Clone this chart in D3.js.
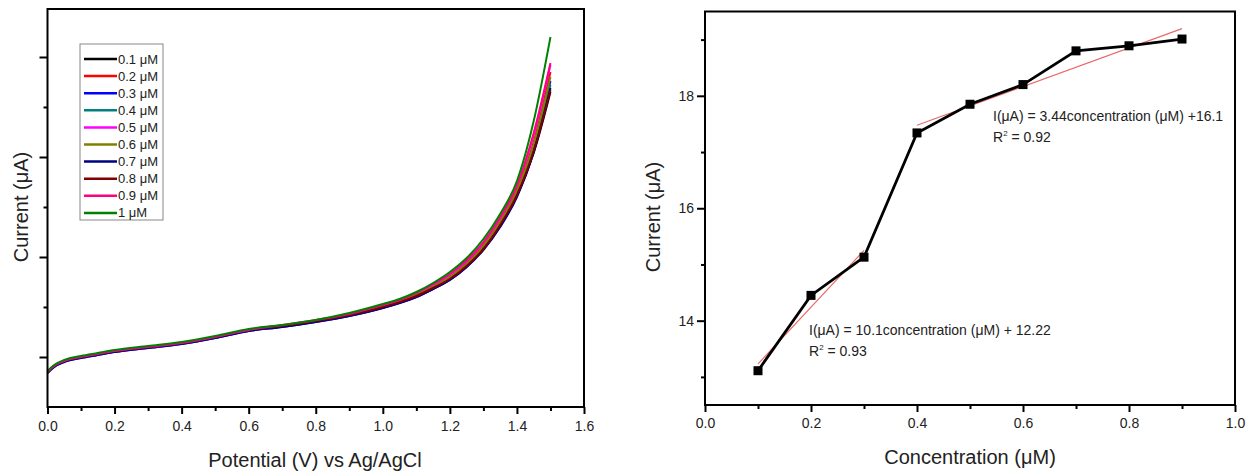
<!DOCTYPE html>
<html>
<head>
<meta charset="utf-8">
<script src="https://cdn.jsdelivr.net/npm/d3@7"></script>
<style>
  html, body { margin: 0; padding: 0; background: #fff; }
  svg { display: block; }
  text { font-family: "Liberation Sans", Arial, sans-serif; fill: #222; }
</style>
</head>
<body>
<svg id="chart" width="1248" height="473"></svg>
<script>
// ---------- Data: left panel (LSV curves) ----------
const potential = [0, 0.02, 0.05, 0.1, 0.15, 0.2, 0.3, 0.4, 0.5, 0.6, 0.7, 0.8, 0.9, 1.0, 1.05, 1.1, 1.15, 1.2, 1.25, 1.3, 1.35, 1.4, 1.45, 1.5];
const seriesNames = ["0.1 \u03BCM", "0.2 \u03BCM", "0.3 \u03BCM", "0.4 \u03BCM", "0.5 \u03BCM", "0.6 \u03BCM", "0.7 \u03BCM", "0.8 \u03BCM", "0.9 \u03BCM", "1 \u03BCM"];
const seriesColors = ["#000000", "#ff0000", "#0000ff", "#008080", "#ff00ff", "#808000", "#000080", "#800000", "#ff0080", "#008000"];
const c01 = [0.85,0.91,0.96,1.00,1.03,1.06,1.10,1.14,1.20,1.27,1.31,1.36,1.42,1.50,1.55,1.61,1.69,1.78,1.91,2.08,2.31,2.61,3.04,3.65];
const c02 = [0.85,0.91,0.96,1.00,1.03,1.06,1.10,1.14,1.20,1.27,1.31,1.36,1.42,1.51,1.56,1.62,1.71,1.80,1.94,2.12,2.36,2.68,3.15,3.85];
const c03 = [0.84,0.90,0.95,0.99,1.02,1.05,1.09,1.13,1.19,1.26,1.30,1.35,1.41,1.49,1.54,1.60,1.68,1.77,1.90,2.08,2.31,2.62,3.08,3.76];
const c04 = [0.85,0.91,0.96,1.00,1.03,1.06,1.10,1.14,1.20,1.27,1.31,1.36,1.42,1.50,1.55,1.61,1.69,1.78,1.92,2.09,2.33,2.64,3.10,3.72];
const c05 = [0.85,0.91,0.96,1.00,1.03,1.06,1.10,1.14,1.20,1.27,1.31,1.36,1.43,1.51,1.57,1.63,1.72,1.82,1.96,2.14,2.39,2.71,3.22,3.92];
const c06 = [0.85,0.91,0.96,1.00,1.03,1.06,1.10,1.14,1.20,1.27,1.31,1.36,1.42,1.51,1.56,1.62,1.70,1.80,1.93,2.11,2.35,2.66,3.13,3.80];
const c07 = [0.84,0.90,0.95,0.99,1.02,1.05,1.09,1.13,1.19,1.26,1.30,1.35,1.41,1.49,1.54,1.60,1.68,1.77,1.90,2.07,2.30,2.60,3.05,3.69];
const c08 = [0.85,0.91,0.96,1.00,1.03,1.06,1.10,1.14,1.20,1.27,1.31,1.36,1.42,1.50,1.55,1.61,1.69,1.78,1.91,2.08,2.32,2.62,3.06,3.67];
const c09 = [0.85,0.91,0.96,1.00,1.03,1.06,1.10,1.14,1.20,1.27,1.32,1.37,1.43,1.52,1.57,1.64,1.73,1.83,1.97,2.15,2.40,2.72,3.24,3.94];
const c10 = [0.86,0.92,0.97,1.01,1.04,1.07,1.11,1.15,1.21,1.28,1.32,1.37,1.44,1.53,1.58,1.65,1.74,1.85,1.99,2.18,2.43,2.76,3.36,4.20];
const leftXTicks = [0, 0.2, 0.4, 0.6, 0.8, 1.0, 1.2, 1.4, 1.6];
const leftXMinor = [0.1, 0.3, 0.5, 0.7, 0.9, 1.1, 1.3, 1.5];
const leftYTicks = [1, 2, 3, 4];
const leftYMinor = [1.5, 2.5, 3.5];

// ---------- Data: right panel (calibration) ----------
const concentration = [0.1, 0.2, 0.3, 0.4, 0.5, 0.6, 0.7, 0.8, 0.9];
const current = [13.11, 14.45, 15.13, 17.34, 17.85, 18.20, 18.80, 18.89, 19.01];
const fitLow = { slope: 10.1, intercept: 12.22, from: 0.1, to: 0.3 };
const fitHigh = { slope: 3.44, intercept: 16.1, from: 0.4, to: 0.9 };
const rightXTicks = [0, 0.2, 0.4, 0.6, 0.8, 1.0];
const rightXMinor = [0.1, 0.3, 0.5, 0.7, 0.9];
const rightYTicks = [14, 16, 18];
const rightYMinor = [13, 15, 17, 19];

const svg = d3.select("#chart");
svg.append("rect").attr("width", 1248).attr("height", 473).attr("fill", "#fff");

function drawAxes(g, x, y, xt, xm, yt, ym, showYLabels, xFmt, xLabelDy) {
  const [x0, x1] = x.range();
  const [y0, y1] = y.range();
  g.append("g").attr("transform", `translate(0,${y0})`)
    .call(d3.axisBottom(x).tickValues(xt).tickSize(7).tickPadding(xLabelDy).tickFormat(xFmt));
  g.append("g").attr("transform", `translate(0,${y0})`)
    .call(d3.axisBottom(x).tickValues(xm).tickSize(4).tickFormat(""));
  g.append("g").attr("transform", `translate(${x0},0)`)
    .call(d3.axisLeft(y).tickValues(yt).tickSize(8).tickPadding(3).tickFormat(showYLabels ? d3.format("d") : ""));
  g.append("g").attr("transform", `translate(${x0},0)`)
    .call(d3.axisLeft(y).tickValues(ym).tickSize(4).tickFormat(""));
  g.selectAll(".domain").remove();
  g.selectAll(".tick line").attr("stroke", "#000").attr("stroke-width", 2);
  g.selectAll(".tick text").attr("font-size", 14).attr("fill", "#222")
    .style("font-family", "'Liberation Sans', Arial, sans-serif");
  g.append("rect").attr("x", x0).attr("y", y1).attr("width", x1 - x0).attr("height", y0 - y1)
    .attr("fill", "none").attr("stroke", "#000").attr("stroke-width", 2);
}

// ---------- Left panel ----------
const xL = d3.scaleLinear().domain([0, 1.6]).range([47.5, 584]);
const yL = d3.scaleLinear().domain([0.5, 4.48]).range([407, 9]);
const gL = svg.append("g");
const curves = [c01, c02, c03, c04, c05, c06, c07, c08, c09, c10];
const lineL = d3.line().x((d, i) => xL(potential[i])).y(d => yL(d)).curve(d3.curveMonotoneX);
curves.forEach((c, k) => {
  gL.append("path").datum(c).attr("d", lineL).attr("fill", "none")
    .attr("stroke", seriesColors[k]).attr("stroke-width", 2);
});
drawAxes(gL, xL, yL, leftXTicks, leftXMinor, leftYTicks, leftYMinor, false, d3.format(".1f"), 7);

// legend
const lg = gL.append("g");
lg.append("rect").attr("x", 80).attr("y", 44).attr("width", 83).attr("height", 176)
  .attr("fill", "#fff").attr("stroke", "#888").attr("stroke-width", 1);
seriesNames.forEach((n, i) => {
  const yy = 59 + i * 17.1;
  lg.append("line").attr("x1", 84).attr("x2", 117).attr("y1", yy).attr("y2", yy)
    .attr("stroke", seriesColors[i]).attr("stroke-width", 2.5);
  lg.append("text").attr("x", 118).attr("y", yy).attr("dy", "0.35em")
    .attr("font-size", 13).text(n);
});

gL.append("text").attr("transform", "translate(28,207) rotate(-90)")
  .attr("text-anchor", "middle").attr("font-size", 20).text("Current (\u03BCA)");
gL.append("text").attr("x", 315).attr("y", 467).attr("text-anchor", "middle")
  .attr("font-size", 20).text("Potential (V) vs Ag/AgCl");

// ---------- Right panel ----------
const xR = d3.scaleLinear().domain([0, 1]).range([705, 1235]);
const yR = d3.scaleLinear().domain([12.5, 19.5]).range([405, 11.5]);
const gR = svg.append("g");
drawAxes(gR, xR, yR, rightXTicks, rightXMinor, rightYTicks, rightYMinor, true, d3.format(".1f"), 6);

[fitLow, fitHigh].forEach(f => {
  gR.append("line")
    .attr("x1", xR(f.from)).attr("y1", yR(f.slope * f.from + f.intercept))
    .attr("x2", xR(f.to)).attr("y2", yR(f.slope * f.to + f.intercept))
    .attr("stroke", "#e86a6a").attr("stroke-width", 1.2);
});
const lineR = d3.line().x((d, i) => xR(concentration[i])).y(d => yR(d));
gR.append("path").datum(current).attr("d", lineR).attr("fill", "none")
  .attr("stroke", "#000").attr("stroke-width", 2.8);
gR.selectAll("rect.pt").data(current).join("rect").attr("class", "pt")
  .attr("x", (d, i) => xR(concentration[i]) - 4.5).attr("y", d => yR(d) - 4.5)
  .attr("width", 9).attr("height", 9).attr("fill", "#000");

function annot(x, y, eq, r2) {
  const t = gR.append("text").attr("x", x).attr("y", y).attr("font-size", 14);
  t.text(eq);
  const t2 = gR.append("text").attr("x", x).attr("y", y + 21).attr("font-size", 14);
  t2.append("tspan").text("R");
  t2.append("tspan").attr("font-size", 8).attr("dy", -6).text("2");
  t2.append("tspan").attr("dy", 6).text(" = " + r2);
}
annot(993, 121, "I(\u03BCA) = 3.44concentration (\u03BCM) +16.1", "0.92");
annot(809, 335, "I(\u03BCA) = 10.1concentration (\u03BCM) + 12.22", "0.93");

gR.append("text").attr("transform", "translate(660,217) rotate(-90)")
  .attr("text-anchor", "middle").attr("font-size", 20).text("Current (\u03BCA)");
gR.append("text").attr("x", 970).attr("y", 464).attr("text-anchor", "middle")
  .attr("font-size", 20).text("Concentration (\u03BCM)");
</script>
</body>
</html>
